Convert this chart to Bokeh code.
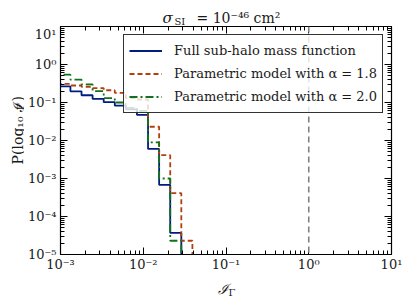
import math
from bokeh.plotting import figure
from bokeh.layouts import column, row
from bokeh.models import (LogAxis, LogTicker, Span, Label, Legend, LegendItem,
                          CustomJSTickFormatter, Range1d)
from bokeh.embed import file_html
from bokeh.resources import INLINE

# ---- data ----
bin_edges = [0.000968, 0.001318, 0.001795, 0.002443, 0.003327, 0.004529, 0.006166,
             0.008395, 0.011429, 0.015560, 0.021184, 0.028840, 0.039264]
full_shmf = [0.265, 0.197, 0.155, 0.124, 0.102, 0.083, 0.066, 0.047, 0.0060, 0.00068, 0.000037, 0.0]
param_a18 = [0.31, 0.28, 0.26, 0.24, 0.21, 0.18, 0.13, 0.12, 0.023, 0.0041, 0.00041, 0.000023]
param_a20 = [0.54, 0.40, 0.30, 0.20, 0.13, 0.10, 0.072, 0.060, 0.0089, 0.0010, 0.000023, 0.0]
threshold = 1.0
series_labels = ["Full sub-halo mass function",
                 "Parametric model with α = 1.8",
                 "Parametric model with α = 2.0"]

X_RANGE = (1e-3, 1e1)
Y_RANGE = (1e-5, 1e1)
FLOOR = 1e-9

SERIF = "DejaVu Serif"
TXT = "#1a1a1a"

W, H = 407, 299
TITLE_H, YLAB_W, XLAB_H = 26, 24, 25
MAIN_W, MAIN_H = W - YLAB_W, H - TITLE_H - XLAB_H

p = figure(width=MAIN_W, height=MAIN_H, x_axis_type="log", y_axis_type="log",
           x_range=Range1d(*X_RANGE), y_range=Range1d(*Y_RANGE),
           output_backend="svg", toolbar_location=None,
           min_border_left=34, min_border_right=16, min_border_top=0, min_border_bottom=17)
p.outline_line_color = None
p.grid.visible = False

def step_path(edges, vals):
    xs, ys = [edges[0]], [FLOOR]
    for i, v in enumerate(vals):
        v = v if v > 0 else FLOOR
        xs += [edges[i], edges[i + 1]]
        ys += [v, v]
    xs.append(edges[-1]); ys.append(FLOOR)
    return xs, ys

styles = [("#001c7f", "solid"), ("#b1400d", "5 3"), ("#12711c", "8 3 2 3")]
renderers = []
for vals, (col, dash) in zip([full_shmf, param_a18, param_a20], styles):
    xs, ys = step_path(bin_edges, vals)
    r = p.line(xs, ys, line_color=col, line_width=1.8, line_dash=dash)
    renderers.append(r)

p.add_layout(Span(location=threshold, dimension="height", line_color="#808080",
                  line_width=1.6, line_dash="6 4"))

# ---- axes ----
fmt = CustomJSTickFormatter(code="""
const e = Math.round(Math.log10(tick));
const sup = {'-':'\u207b','0':'\u2070','1':'\u00b9','2':'\u00b2','3':'\u00b3','4':'\u2074',
             '5':'\u2075','6':'\u2076','7':'\u2077','8':'\u2078','9':'\u2079'};
return '10' + String(e).split('').map(c => sup[c]).join('');
""")

def style_axis(ax, labels=True):
    ax.ticker = LogTicker(num_minor_ticks=10)
    ax.axis_line_color = "black"
    ax.axis_line_width = 1.2
    ax.major_tick_in = 7
    ax.major_tick_out = 0
    ax.minor_tick_in = 4
    ax.minor_tick_out = 0
    ax.major_tick_line_color = "black"
    ax.minor_tick_line_color = "black"
    ax.axis_label = None
    if labels:
        ax.formatter = fmt
        ax.major_label_text_font = SERIF
        ax.major_label_text_font_size = "13px"
        ax.major_label_text_color = TXT
        ax.major_label_standoff = 2
    else:
        ax.formatter = CustomJSTickFormatter(code="return '';")
        ax.major_label_text_font_size = "0px"
        ax.major_label_standoff = 0

style_axis(p.xaxis[0])
style_axis(p.yaxis[0])
p.yaxis[0].major_label_standoff = 4
top = LogAxis()
right = LogAxis()
p.add_layout(top, "above")
p.add_layout(right, "right")
style_axis(top, labels=False)
style_axis(right, labels=False)

# ---- legend ----
legend = Legend(items=[LegendItem(label=l, renderers=[r]) for l, r in zip(series_labels, renderers)],
                location="top_right", margin=8, padding=5, spacing=2,
                label_height=21, glyph_height=21, glyph_width=33, label_standoff=12,
                label_text_font=SERIF, label_text_font_size="13px", label_text_color=TXT,
                border_line_color="black", border_line_alpha=0.8, border_line_width=1,
                background_fill_color="white", background_fill_alpha=0.8)
p.add_layout(legend, "center")

# ---- small text-only figures around the chart (coordinates = page pixels) ----
def text_fig(width, height, x0, y0):
    f = figure(width=width, height=height, x_axis_type=None, y_axis_type=None,
               x_range=Range1d(x0, x0 + width), y_range=Range1d(y0 + height, y0),
               output_backend="svg", toolbar_location=None, min_border=0)
    f.outline_line_color = None
    f.grid.visible = False
    return f

def lab(f, text, x, y, size, italic=False, angle=0.0):
    f.add_layout(Label(x=x, y=y, text=text, text_font=SERIF, text_font_size=f"{size}px",
                       text_font_style="italic" if italic else "normal",
                       text_color=TXT, text_align="left", text_baseline="alphabetic",
                       angle=angle))

title_fig = text_fig(W, TITLE_H, 0, 0)
lab(title_fig, "σ", 162, 17.5, 15, italic=True)
lab(title_fig, "SI", 174, 21, 10)
lab(title_fig, "= 10⁻⁴⁶ cm²", 196, 17.5, 14)

ylab_fig = text_fig(YLAB_W, MAIN_H, 0, TITLE_H)
lab(ylab_fig, "P(log₁₀ ℐ", 17, 176, 14, angle=math.pi / 2)
lab(ylab_fig, "Γ", 20, 117, 10, angle=math.pi / 2)
lab(ylab_fig, ")", 17, 107.5, 14, angle=math.pi / 2)

xlab_fig = text_fig(W, XLAB_H, 0, TITLE_H + MAIN_H)
lab(xlab_fig, "ℐ", 217, 288, 14, italic=True)
lab(xlab_fig, "Γ", 228, 292, 10)

layout = column(title_fig, row(ylab_fig, p), xlab_fig)
open("out.html", "w").write(file_html(layout, INLINE))
